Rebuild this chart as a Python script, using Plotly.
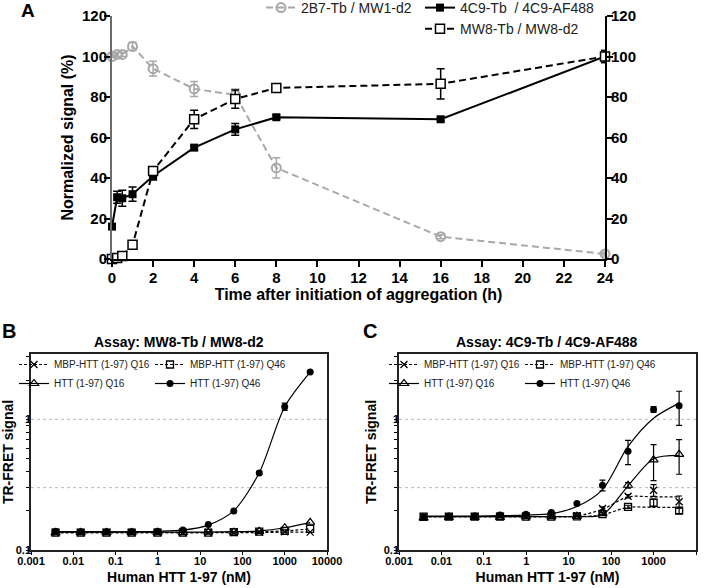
import plotly.graph_objects as go

# ---------------- Panel A data ----------------
time_h = [0, 0.25, 0.5, 1, 2, 4, 6, 8, 16, 24]
a_2b7 = [100, 101, 101, 105, 94, 84, 81, 45, 11, 2.5]
a_2b7_err = [0.5, 1, 1, 2, 3.6, 3.7, 3, 5, 1, 1]
a_4c9 = [16, 30.5, 30, 32, 41, 55, 64, 70, 69, 100]
a_4c9_err = [1, 3, 4, 3.5, 2, 1, 2.9, 1, 1, 3]
a_mw8 = [0, 0.5, 1.5, 7, 43.5, 69, 79, 84.5, 86.5, 100]
a_mw8_err = [0.5, 1, 1, 1, 2, 4.5, 4.5, 1, 7.5, 3]
a_xticks = [0, 2, 4, 6, 8, 10, 12, 14, 16, 18, 20, 22, 24]
a_yticks = [0, 20, 40, 60, 80, 100, 120]

# ---------------- Panels B / C data ----------------
conc_nm = [0.0038, 0.015, 0.061, 0.24, 0.98, 3.9, 15.6, 62.5, 250, 1000, 4000]
log_xticks = [0.001, 0.01, 0.1, 1, 10, 100, 1000, 10000]
log_xticklabels = ["0.001", "0.01", "0.1", "1", "10", "100", "1000", "10000"]
log_yticks = [0.1, 1]
log_yticklabels = ["0.1", "1"]
log_yminor = [0.2, 0.3, 0.4, 0.5, 0.6, 0.7, 0.8, 0.9, 2, 3]
threshold_lines = [0.3, 1]

# Panel B: MW8-Tb / MW8-d2
b_mbp_q16 = [0.136, 0.136, 0.136, 0.136, 0.136, 0.136, 0.136, 0.136, 0.137, 0.138, 0.137]
b_mbp_q46 = [0.136, 0.136, 0.136, 0.136, 0.136, 0.136, 0.136, 0.137, 0.138, 0.140, 0.145]
b_htt_q16 = [0.135, 0.136, 0.136, 0.136, 0.136, 0.136, 0.137, 0.137, 0.139, 0.148, 0.163]
b_htt_q46 = [0.139, 0.138, 0.138, 0.138, 0.139, 0.142, 0.157, 0.199, 0.389, 1.25, 2.30]
b_htt_q46_err = [0, 0, 0, 0, 0, 0, 0, 0, 0.01, 0.08, 0.03]
b_fit_mbp_q16 = [0.136, 0.136, 0.136, 0.136, 0.136, 0.136, 0.136, 0.136, 0.136, 0.137, 0.137]
b_fit_mbp_q46 = [0.136, 0.136, 0.136, 0.136, 0.136, 0.136, 0.136, 0.137, 0.138, 0.140, 0.145]
b_fit_htt_q16 = [0.137, 0.137, 0.137, 0.137, 0.137, 0.137, 0.137, 0.138, 0.140, 0.148, 0.162]
b_fit_htt_q46 = [0.138, 0.138, 0.138, 0.138, 0.139, 0.142, 0.155, 0.200, 0.390, 1.25, 2.30]

# Panel C: 4C9-Tb / 4C9-AF488
c_mbp_q16 = [0.180, 0.180, 0.180, 0.181, 0.181, 0.181, 0.183, 0.208, 0.258, 0.287, 0.234]
c_mbp_q16_err = [0, 0, 0, 0, 0, 0, 0.003, 0.006, 0.008, 0.03, 0.025]
c_mbp_q46 = [0.180, 0.180, 0.180, 0.180, 0.180, 0.180, 0.181, 0.188, 0.214, 0.230, 0.200]
c_mbp_q46_err = [0, 0, 0, 0, 0, 0, 0, 0.004, 0.006, 0.015, 0.01]
c_htt_q16 = [0.175, 0.178, 0.178, 0.178, 0.180, 0.180, 0.181, 0.190, 0.313, 0.49, 0.54]
c_htt_q16_err = [0.005, 0, 0, 0, 0, 0, 0, 0.005, 0.015, 0.15, 0.16]
c_htt_q46 = [0.180, 0.181, 0.182, 0.185, 0.188, 0.194, 0.227, 0.313, 0.57, 1.19, 1.27]
c_htt_q46_err = [0, 0, 0, 0, 0.004, 0.004, 0.005, 0.03, 0.12, 0.06, 0.37]
c_fit_mbp_q16 = [0.180, 0.180, 0.180, 0.180, 0.180, 0.180, 0.182, 0.205, 0.255, 0.255, 0.255]
c_fit_mbp_q46 = [0.180, 0.180, 0.180, 0.180, 0.180, 0.180, 0.180, 0.186, 0.212, 0.212, 0.212]
c_fit_htt_q16 = [0.180, 0.180, 0.180, 0.180, 0.180, 0.180, 0.180, 0.186, 0.310, 0.50, 0.53]
c_fit_htt_q46 = [0.182, 0.182, 0.182, 0.183, 0.185, 0.190, 0.215, 0.290, 0.62, 1.02, 1.33]

FONT = "Liberation Sans, Arial, sans-serif"
GRAY = "#a8a8a8"
W, H = 711, 588


def px(x):
    return x / W


def py(y):
    return 1 - y / H


fig = go.Figure()

# ---------------- Panel A traces ----------------
fig.add_trace(go.Scatter(
    x=time_h, y=a_2b7, mode="lines+markers", name="2B7-Tb / MW1-d2",
    line=dict(color=GRAY, width=2, dash="7px,4px"),
    marker=dict(symbol="circle-open", size=9, color=GRAY, line=dict(width=2, color=GRAY)),
    error_y=dict(type="data", array=a_2b7_err, color=GRAY, thickness=1.5, width=4),
    xaxis="x", yaxis="y", legend="legend", cliponaxis=False))
fig.add_trace(go.Scatter(
    x=time_h, y=a_4c9, mode="lines+markers", name="4C9-Tb  / 4C9-AF488",
    line=dict(color="black", width=2),
    marker=dict(symbol="square", size=8, color="black"),
    error_y=dict(type="data", array=a_4c9_err, color="black", thickness=1.5, width=4),
    xaxis="x", yaxis="y2", legend="legend2", cliponaxis=False))
fig.add_trace(go.Scatter(
    x=time_h, y=a_mw8, mode="lines+markers", name="MW8-Tb / MW8-d2",
    line=dict(color="black", width=2, dash="7px,4px"),
    marker=dict(symbol="square", size=9, color="white", line=dict(width=1.5, color="black")),
    error_y=dict(type="data", array=a_mw8_err, color="black", thickness=1.5, width=4),
    xaxis="x", yaxis="y2", legend="legend2", cliponaxis=False))

# ---------------- Panels B / C traces ----------------
series_style = {
    "mbp_q16": dict(name="MBP-HTT (1-97) Q16", dash="3px,2px", col=0,
                    marker=dict(symbol="x-thin-open", size=7, color="black", line=dict(width=1.3, color="black"))),
    "mbp_q46": dict(name="MBP-HTT (1-97) Q46", dash="3px,2px", col=1,
                    marker=dict(symbol="square-open", size=7, color="black", line=dict(width=1.3, color="black"))),
    "htt_q16": dict(name="HTT (1-97) Q16", dash="solid", col=0,
                    marker=dict(symbol="triangle-up-open", size=8, color="black", line=dict(width=1.2, color="black"))),
    "htt_q46": dict(name="HTT (1-97) Q46", dash="solid", col=1,
                    marker=dict(symbol="circle", size=7, color="black")),
}

panels = [
    dict(xa="x2", ya="y3", legs=["legend3", "legend4"],
         data={"mbp_q16": (b_mbp_q16, None, b_fit_mbp_q16),
               "mbp_q46": (b_mbp_q46, None, b_fit_mbp_q46),
               "htt_q16": (b_htt_q16, None, b_fit_htt_q16),
               "htt_q46": (b_htt_q46, b_htt_q46_err, b_fit_htt_q46)}),
    dict(xa="x3", ya="y4", legs=["legend5", "legend6"],
         data={"mbp_q16": (c_mbp_q16, c_mbp_q16_err, c_fit_mbp_q16),
               "mbp_q46": (c_mbp_q46, c_mbp_q46_err, c_fit_mbp_q46),
               "htt_q16": (c_htt_q16, c_htt_q16_err, c_fit_htt_q16),
               "htt_q46": (c_htt_q46, c_htt_q46_err, c_fit_htt_q46)}),
]

for p in panels:
    for key in ["mbp_q16", "mbp_q46", "htt_q16", "htt_q46"]:
        vals, err, fit = p["data"][key]
        st = series_style[key]
        fig.add_trace(go.Scatter(
            x=conc_nm, y=fit, mode="lines",
            line=dict(color="black", width=1.2, dash=st["dash"], shape="spline", smoothing=0.8),
            xaxis=p["xa"], yaxis=p["ya"], showlegend=False, hoverinfo="skip"))
        ey = dict(type="data", array=err, color="black", thickness=1.2, width=3) if err else None
        fig.add_trace(go.Scatter(
            x=conc_nm, y=vals, mode="markers", marker=st["marker"], error_y=ey,
            xaxis=p["xa"], yaxis=p["ya"], showlegend=False, cliponaxis=False))
        fig.add_trace(go.Scatter(
            x=[None], y=[None], mode="lines+markers", name=st["name"],
            line=dict(color="black", width=1.2, dash=st["dash"]), marker=st["marker"],
            xaxis=p["xa"], yaxis=p["ya"], legend=p["legs"][st["col"]]))

for p in panels:
    for val in threshold_lines:
        fig.add_shape(type="line", xref=p["xa"] + " domain", yref=p["ya"], x0=0, x1=1, y0=val, y1=val,
                      line=dict(color="#b8b8b8", width=1, dash="dot"), layer="below")


def bold(s):
    return dict(family=FONT, size=s, color="black", weight="bold")


axA = dict(showgrid=False, zeroline=False, showline=True, linewidth=2, ticks="outside", automargin=False,
           ticklen=6, tickwidth=1.5, tickcolor="black", tickfont=bold(15))
axLog = dict(type="log", showgrid=False, zeroline=False, showline=True, mirror=True, linewidth=1.5,
             automargin=False, linecolor="#222", ticks="outside", ticklen=3, tickwidth=1.2,
             tickcolor="black", tickfont=bold(11))

leg_small = dict(yanchor="top", xanchor="left", bgcolor="rgba(0,0,0,0)", tracegroupgap=0,
                 font=dict(family=FONT, size=10, color="#222"))

fig.update_layout(
    width=W, height=H, margin=dict(l=0, r=0, t=0, b=0, autoexpand=False),
    paper_bgcolor="white", plot_bgcolor="white",
    font=dict(family=FONT, color="black"),
    xaxis=dict(axA, domain=[px(112), px(605)], anchor="y", range=[0, 24], tickvals=a_xticks,
               linecolor="black", ticklabelstandoff=-2,
               title=dict(text="Time after initiation of aggregation (h)", font=bold(16), standoff=4)),
    yaxis=dict(axA, domain=[py(259), py(16)], anchor="x", range=[0, 120], tickvals=a_yticks,
               linecolor="#6b6b6b", ticklabelstandoff=-6,
               title=dict(text="Normalized signal (%)", font=bold(16), standoff=4)),
    yaxis2=dict(axA, overlaying="y", side="right", anchor="x", range=[0, 120], tickvals=a_yticks,
                linecolor="black", ticklabelstandoff=-5),
    xaxis2=dict(axLog, domain=[px(31), px(327)], anchor="y3", range=[-3, 4],
                tickvals=log_xticks, ticktext=log_xticklabels, ticklabelstandoff=-3,
                title=dict(text="Human HTT 1-97 (nM)", font=bold(14), standoff=6)),
    yaxis3=dict(axLog, domain=[py(550), py(354)], anchor="x2", range=[-1, 0.5],
                tickvals=log_yticks, ticktext=log_yticklabels, ticklabelstandoff=-7,
                minor=dict(tickvals=log_yminor, ticks="outside", ticklen=3, tickcolor="black"),
                title=dict(text="TR-FRET signal", font=bold(14), standoff=4)),
    xaxis3=dict(axLog, domain=[px(399), px(696)], anchor="y4", range=[-3, 4],
                tickvals=log_xticks, ticktext=log_xticklabels, ticklabelstandoff=-3,
                title=dict(text="Human HTT 1-97 (nM)", font=bold(14), standoff=6)),
    yaxis4=dict(axLog, domain=[py(550), py(354)], anchor="x3", range=[-1, 0.5],
                tickvals=log_yticks, ticktext=log_yticklabels, ticklabelstandoff=-7,
                minor=dict(tickvals=log_yminor, ticks="outside", ticklen=3, tickcolor="black"),
                title=dict(text="TR-FRET signal", font=bold(14), standoff=4)),
    legend=dict(x=px(261), y=py(-8), xanchor="left", yanchor="top", bgcolor="rgba(0,0,0,0)",
                font=dict(family=FONT, size=14, color="#222")),
    legend2=dict(x=px(420), y=py(-8), xanchor="left", yanchor="top", bgcolor="rgba(0,0,0,0)",
                 font=dict(family=FONT, size=14, color="#222"), tracegroupgap=0),
    legend3=dict(leg_small, x=px(14), y=py(350)),
    legend4=dict(leg_small, x=px(150), y=py(350)),
    legend5=dict(leg_small, x=px(384), y=py(350)),
    legend6=dict(leg_small, x=px(520), y=py(350)),
    annotations=[
        dict(text="A", x=px(28), y=py(11), xref="paper", yref="paper", showarrow=False, font=bold(19),
             xanchor="center", yanchor="middle"),
        dict(text="B", x=px(9), y=py(331), xref="paper", yref="paper", showarrow=False, font=bold(20),
             xanchor="center", yanchor="middle"),
        dict(text="C", x=px(370), y=py(331), xref="paper", yref="paper", showarrow=False, font=bold(20),
             xanchor="center", yanchor="middle"),
        dict(text="Assay: MW8-Tb / MW8-d2", x=px(179), y=py(342), xref="paper", yref="paper",
             showarrow=False, font=bold(14), xanchor="center", yanchor="middle"),
        dict(text="Assay: 4C9-Tb / 4C9-AF488", x=px(547), y=py(342), xref="paper", yref="paper",
             showarrow=False, font=bold(14), xanchor="center", yanchor="middle"),
    ],
)

fig.write_html("out.html", config={"displayModeBar": False},
               post_script="document.body.style.margin='0px';")
